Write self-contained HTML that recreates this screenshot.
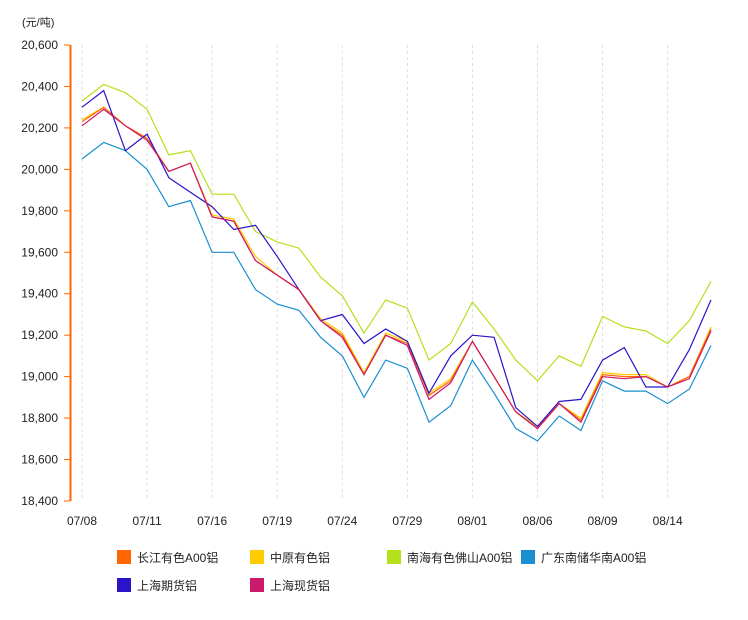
<!DOCTYPE html>
<html><head><meta charset="utf-8"><style>
body{margin:0;background:#fff;}
svg text{font-family:"Liberation Sans","Noto Sans CJK SC",sans-serif;font-size:12px;fill:#222;}
</style></head><body>
<svg width="748" height="615" xmlns="http://www.w3.org/2000/svg">
<text x="22" y="26" style="font-size:11px">(元/吨)</text>
<g id="grid" stroke="#ddd" stroke-dasharray="3,3"></g>
<g id="yax"></g>
<g id="xax"></g>
<g id="lines" fill="none" stroke-width="1.2"></g>
<line x1="70.5" y1="45" x2="70.5" y2="501" stroke="#f60" stroke-width="2"/>
<g>
<rect x="117" y="550" width="14" height="14" fill="#f60"/><text x="137" y="562">长江有色A00铝</text>
<rect x="250" y="550" width="14" height="14" fill="#fc0"/><text x="270" y="562">中原有色铝</text>
<rect x="387" y="550" width="14" height="14" fill="#b5e01c"/><text x="407" y="562">南海有色佛山A00铝</text>
<rect x="521" y="550" width="14" height="14" fill="#1a8fd0"/><text x="541" y="562">广东南储华南A00铝</text>
<rect x="117" y="578" width="14" height="14" fill="#2a14c8"/><text x="137" y="590">上海期货铝</text>
<rect x="250" y="578" width="14" height="14" fill="#cc1a6a"/><text x="270" y="590">上海现货铝</text>
</g>
<script>
var ns="http://www.w3.org/2000/svg";
function Y(v){return 501-(v-18400)*456/2200;}
function X(i){return 82+i*21.69;}
var ya=document.getElementById('yax');
for(var v=18400;v<=20600;v+=200){var y=Y(v);
 var t=document.createElementNS(ns,'text');t.setAttribute('x',58);t.setAttribute('y',y+4);t.setAttribute('text-anchor','end');t.textContent=v.toLocaleString('en-US');ya.appendChild(t);
 var l=document.createElementNS(ns,'line');l.setAttribute('x1',64);l.setAttribute('x2',70);l.setAttribute('y1',y);l.setAttribute('y2',y);l.setAttribute('stroke','#f60');ya.appendChild(l);}
var labs=['07/08','07/11','07/16','07/19','07/24','07/29','08/01','08/06','08/09','08/14'];
var g=document.getElementById('grid'),xa=document.getElementById('xax');
labs.forEach(function(s,k){var x=X(k*3);
 var l=document.createElementNS(ns,'line');l.setAttribute('x1',x);l.setAttribute('x2',x);l.setAttribute('y1',45);l.setAttribute('y2',501);g.appendChild(l);
 var t=document.createElementNS(ns,'text');t.setAttribute('x',x);t.setAttribute('y',525);t.setAttribute('text-anchor','middle');t.textContent=s;xa.appendChild(t);});
var S=[
['#b5e01c',[20330,20410,20370,20290,20070,20090,19880,19880,19700,19650,19620,19480,19390,19210,19370,19330,19080,19160,19360,19230,19080,18980,19100,19050,19290,19240,19220,19160,19270,19460]],
['#1a8fd0',[20050,20130,20090,20000,19820,19850,19600,19600,19420,19350,19320,19190,19100,18900,19080,19040,18780,18860,19080,18920,18750,18690,18810,18740,18980,18930,18930,18870,18940,19150]],
['#fc0',[20240,20300,20210,20150,19990,20030,19780,19760,19580,19490,19420,19280,19210,19020,19210,19170,18920,18990,19170,19000,18830,18760,18870,18800,19020,19010,19010,18950,19000,19240]],
['#f60',[20230,20300,20210,20150,19990,20030,19770,19750,19560,19490,19420,19270,19200,19010,19200,19160,18910,18980,19170,19000,18830,18750,18870,18790,19010,19000,19000,18950,19000,19230]],
['#2a14c8',[20300,20380,20090,20170,19960,19890,19820,19710,19730,19580,19420,19270,19300,19160,19230,19170,18920,19100,19200,19190,18850,18760,18880,18890,19080,19140,18950,18950,19130,19370]],
['#cc1a6a',[20210,20290,20210,20140,19990,20030,19770,19750,19560,19490,19420,19270,19190,19010,19200,19150,18890,18970,19170,19000,18830,18750,18870,18780,19000,18990,19000,18950,18990,19220]]];
var lg=document.getElementById('lines');
S.forEach(function(s){var p=s[1].map(function(v,i){return X(i).toFixed(1)+','+Y(v).toFixed(1);}).join(' ');
 var pl=document.createElementNS(ns,'polyline');pl.setAttribute('points',p);pl.setAttribute('stroke',s[0]);lg.appendChild(pl);});
</script>
</svg>
</body></html>
